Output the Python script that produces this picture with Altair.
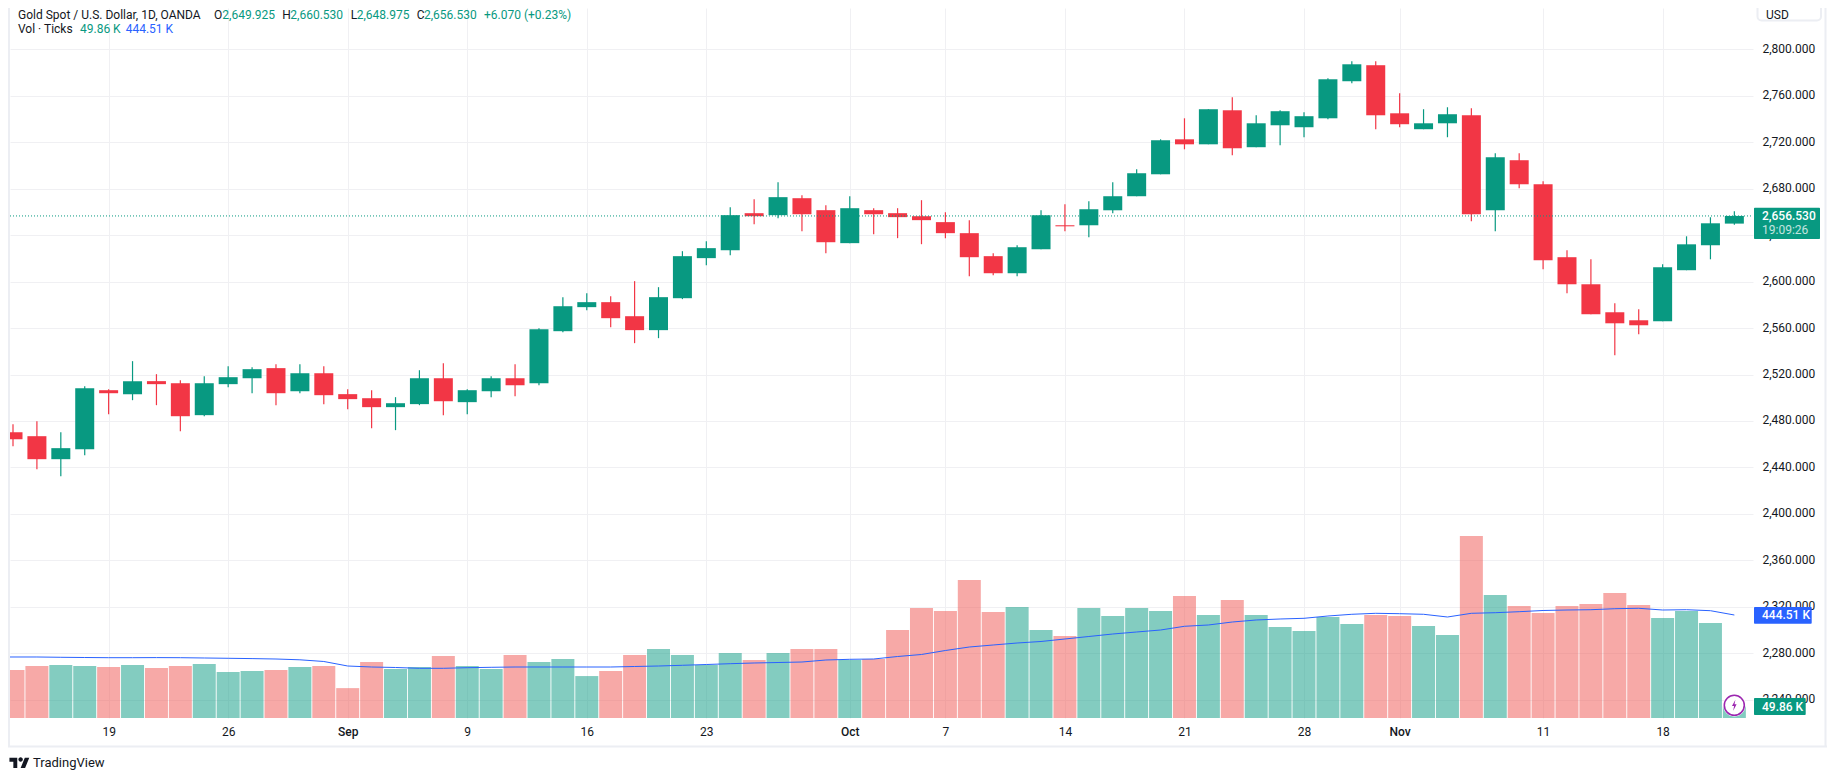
import altair as alt
import pandas as pd

# ---------- data ----------
opens = [2470.4,2466.9,2447.1,2455.7,2506.5,2503.1,2514.3,2512.5,2485.0,2511.7,2516.8,2525.5,2505.6,2521.1,2503.1,2499.6,
         2491.9,2494.5,2516.8,2496.2,2505.6,2516.8,2512.5,2557.3,2578.0,2582.3,2570.2,2558.2,2585.7,2620.2,2627.0,2658.9,
         2657.2,2671.8,2661.5,2633.1,2661.5,2658.9,2656.3,2651.2,2641.7,2621.9,2607.2,2627.8,2648.5,2648.5,2661.4,2673.5,
         2692.4,2722.5,2718.2,2747.5,2715.7,2734.6,2732.9,2740.6,2772.5,2786.3,2744.9,2731.2,2736.3,2743.2,2661.4,2704.5,
         2683.8,2621.0,2597.7,2573.6,2566.7,2565.8,2609.8,2631.3,2649.925]
highs = [2477.2,2479.8,2470.4,2510.0,2507.4,2531.5,2520.3,2515.1,2518.6,2527.2,2526.3,2528.9,2528.9,2527.2,2507.4,2506.5,
         2500.5,2523.7,2529.8,2507.4,2518.6,2528.9,2559.9,2586.6,2590.0,2587.4,2600.4,2595.2,2626.2,2634.8,2664.1,2671.0,
         2685.6,2674.4,2665.8,2673.5,2663.2,2663.2,2670.1,2659.8,2652.9,2624.5,2631.3,2661.4,2666.6,2669.2,2685.5,2696.7,
         2722.5,2740.6,2748.4,2758.7,2743.2,2747.5,2745.8,2775.1,2789.7,2789.7,2762.2,2748.4,2750.1,2749.2,2710.5,2710.5,
         2686.4,2627.0,2619.2,2581.3,2576.2,2614.9,2639.0,2655.4,2660.53]
lows = [2458.3,2438.5,2432.5,2450.5,2485.8,2497.9,2493.6,2471.2,2484.1,2509.1,2503.9,2493.6,2503.9,2494.5,2490.2,2473.8,
        2472.1,2493.6,2485.0,2485.8,2500.5,2501.3,2510.8,2556.4,2575.4,2560.8,2547.0,2551.3,2584.9,2614.1,2622.7,2649.4,
        2654.6,2643.4,2624.5,2633.1,2640.8,2637.4,2632.2,2637.4,2604.7,2605.5,2604.6,2627.8,2643.3,2638.2,2658.8,2673.5,
        2692.4,2713.9,2718.2,2708.8,2715.7,2717.4,2724.3,2739.8,2770.8,2731.2,2732.9,2731.2,2724.3,2651.9,2643.3,2680.4,
        2610.6,2590.0,2571.9,2536.6,2554.7,2565.8,2609.8,2619.2,2648.975]
closes = [2464.3,2447.1,2456.6,2508.2,2503.9,2514.3,2511.7,2484.1,2512.5,2517.7,2524.6,2503.9,2521.1,2502.2,2498.8,2491.9,
          2495.3,2516.8,2497.0,2506.5,2516.8,2510.8,2559.0,2578.8,2582.3,2568.5,2558.2,2586.6,2621.9,2628.8,2657.2,2656.3,
          2672.7,2658.0,2633.9,2663.2,2658.0,2655.5,2652.9,2641.7,2621.0,2607.2,2629.6,2657.1,2647.6,2662.3,2673.5,2693.3,
          2721.7,2718.2,2748.4,2714.8,2736.3,2746.7,2742.4,2774.2,2787.1,2743.2,2735.5,2736.3,2744.1,2658.0,2707.0,2683.8,
          2618.4,2597.7,2571.9,2564.1,2562.4,2612.3,2632.1,2650.2,2656.53]
volumes = [207,224,229,224,220,229,216,224,233,199,203,207,220,224,129,242,211,220,268,224,211,272,242,255,181,203,272,298,
           272,229,281,250,281,298,298,250,255,380,475,462,596,457,479,380,354,475,440,475,462,527,445,509,445,393,375,436,
           406,445,440,397,358,786,531,483,453,483,492,540,488,432,462,410,49.86]
volume_ma = [263.3,263.3,263.3,262.0,261.1,260.3,260.3,260.7,260.3,259.0,257.7,256.4,254.6,251.2,243.9,224.4,220.1,218.0,
             214.5,214.5,217.1,218.8,220.1,220.1,220.1,220.1,220.1,222.3,224.4,227.5,230.9,234.4,237.4,239.5,241.7,250.3,
             253.3,254.6,265.4,274.1,291.3,306.4,315.1,323.7,330.2,341.0,351.8,362.5,371.2,379.8,395.8,401.4,414.3,423.0,
             427.3,430.3,440.2,447.6,451.9,450.2,447.6,435.9,451.9,454.5,458.8,464.0,466.1,467.4,471.7,473.5,466.1,467.4,
             463.1,444.51]
x_tick_bars = [4,9,14,19,24,29,35,39,44,49,54,58,64,69]
x_tick_labels = ["19","26","Sep","9","16","23","Oct","7","14","21","28","Nov","11","18"]
month_bars = [14,35,58]
price_ticks = [2240,2280,2320,2360,2400,2440,2480,2520,2560,2600,2640,2680,2720,2760,2800]
last_price = 2656.53

GREEN, RED, BLUE, INK = "#089981", "#F23645", "#2962FF", "#131722"
VOL_RED = "#EF5350"
GRID = "#f0f0f3"
BORDER = "#eceef3"
FONT = "Roboto"

# ---------- layout ----------
W, H, LEFT, TOP = 1743, 710, 2, 0
OX, OY = 10, 8            # page position of the plot area's corner

df = pd.DataFrame({"i": range(len(opens)), "o": opens, "h": highs, "l": lows, "c": closes, "v": volumes})
ma_df = pd.DataFrame({"i": range(-1, len(volume_ma) - 1), "m": volume_ma})

xs = alt.Scale(domain=[-0.1255, 72.78], nice=False, zero=False, padding=0)
ps = alt.Scale(domain=[2224.27, 2835.56], nice=False, zero=False, padding=0)
vs = alt.Scale(domain=[0, 3064.4], nice=False, zero=False, padding=0)
up = "datum.c >= datum.o"
cond_candle = alt.condition(up, alt.value(GREEN), alt.value(RED))
cond_vol = alt.condition(up, alt.value(GREEN), alt.value(VOL_RED))

label_expr = "[" + ",".join(f"'{t}'" for t in x_tick_labels) + "][indexof(" + str(x_tick_bars) + ",datum.value)]"
month_test = " || ".join(f"datum.value == {b}" for b in month_bars)
x_axis = alt.Axis(values=x_tick_bars, labelExpr=label_expr, title=None, domain=False, ticks=False,
                  grid=True, gridColor=GRID, gridWidth=1, labelFont=FONT, labelFontSize=12, labelColor=INK,
                  labelPadding=8, labelOverlap=False, labelFlush=False,
                  labelFontWeight={"condition": {"test": month_test, "value": 500}, "value": 400})
y_axis = alt.Axis(values=price_ticks, format=",.3f", title=None, orient="right", domain=False, ticks=False,
                  grid=True, gridColor=GRID, gridWidth=1, labelFont=FONT, labelFontSize=12, labelColor=INK,
                  labelPadding=9, labelOverlap=False, labelFlush=False, labelAlign="left", labelOffset=-1,
                  tickCount=len(price_ticks))

base = alt.Chart(df)
vol_bars = base.mark_bar(size=23, opacity=0.5, clip=True).encode(
    x=alt.X("i:Q", scale=xs, axis=x_axis),
    y=alt.Y("v:Q", scale=vs, axis=None),
    color=cond_vol)
vol_ma = alt.Chart(ma_df).mark_line(color=BLUE, strokeWidth=1, clip=True).encode(
    x=alt.X("i:Q", scale=xs, axis=None),
    y=alt.Y("m:Q", scale=vs, axis=None))
wicks = base.mark_rule(strokeWidth=1.2, clip=True).encode(
    x=alt.X("i:Q", scale=xs, axis=None),
    y=alt.Y("h:Q", scale=ps, axis=y_axis),
    y2="l:Q",
    color=cond_candle)
bodies = base.mark_bar(size=19, clip=True).encode(
    x=alt.X("i:Q", scale=xs, axis=None),
    y=alt.Y("o:Q", scale=ps, axis=None),
    y2="c:Q",
    color=cond_candle)
price_line = alt.Chart(pd.DataFrame({"p": [last_price]})).mark_rule(color=GREEN, strokeWidth=1, strokeDash=[1, 2]).encode(
    y=alt.Y("p:Q", scale=ps, axis=None), x=alt.value(0), x2=alt.value(W))


def one():
    return alt.Chart(pd.DataFrame({"a": [0]}))


def text(s, px, py, color=INK, size=12, align="left", weight=400, opacity=1):
    return one().mark_text(text=s, align=align, baseline="middle", font=FONT, fontSize=size, color=color,
                           fontWeight=weight, opacity=opacity).encode(x=alt.value(px - OX), y=alt.value(py - OY))


def box(x0, x1, y0, y1, color, radius=0, stroke=None):
    kw = {"cornerRadius": radius}
    if stroke:
        kw.update(stroke=stroke, strokeWidth=2, fill="#ffffff")
    else:
        kw.update(color=color)
    return one().mark_rect(**kw).encode(x=alt.value(x0 - OX), x2=alt.value(x1 - OX),
                                        y=alt.value(y0 - OY), y2=alt.value(y1 - OY))


def glyph(shape, px, py, size, fill, stroke=None, sw=0):
    kw = {"shape": shape, "size": size, "fill": fill, "filled": True, "opacity": 1}
    if stroke:
        kw.update(stroke=stroke, strokeWidth=sw)
    else:
        kw.update(strokeWidth=0)
    return one().mark_point(**kw).encode(x=alt.value(px - OX), y=alt.value(py - OY))


decor = [
    # frame
    box(8, 10, 8, 747, BORDER),
    box(8, 1827, 745.5, 747.5, BORDER),
    box(1824.5, 1826.5, 8, 747, BORDER),
    # scale button
    box(1757.5, 1821, 4, 20.5, "#ffffff", radius=4, stroke=BORDER),
    text("USD", 1766, 14.5),
    # header rows
    text("Gold Spot / U.S. Dollar, 1D, OANDA", 18, 14.5),
    text("O", 214, 14.5), text("2,649.925", 222.3, 14.5, GREEN),
    text("H", 282.3, 14.5), text("2,660.530", 290.3, 14.5, GREEN),
    text("L", 350.7, 14.5), text("2,648.975", 356.7, 14.5, GREEN),
    text("C", 416.7, 14.5), text("2,656.530", 424, 14.5, GREEN),
    text("+6.070 (+0.23%)", 484, 14.5, GREEN),
    text("Vol · Ticks", 18, 29),
    text("49.86 K", 80, 29, GREEN),
    text("444.51 K", 125.7, 29, BLUE),
    # price tags
    box(1754, 1820, 207.7, 239, GREEN, radius=1),
    text("2,656.530", 1762, 216, "#ffffff", weight=500),
    text("19:09:26", 1762, 230, "#ffffff", opacity=0.75),
    box(1754, 1811.7, 607, 623.7, BLUE, radius=1),
    text("444.51 K", 1762, 615.4, "#ffffff", weight=500),
    box(1754, 1805.7, 698, 715, GREEN, radius=1),
    text("49.86 K", 1762, 706.5, "#ffffff", weight=500),
    # lightning badge
    glyph("circle", 1734.3, 705.3, 500, "#ffffff"),
    glyph("circle", 1734.3, 705.3, 400, "#ffffff", "#9C27B0", 1.6),
    glyph("M0.2 -1 L-0.42 0.15 L-0.04 0.15 L-0.2 1 L0.42 -0.2 L0.04 -0.2 Z", 1734.3, 705.3, 121, "#9C27B0"),
    # brand
    glyph("M-4 9H-11V-2H-18V-9H-4ZM10 9H2L9.5 -9H17.5ZM-2 -6a4 4 0 1 0 8 0a4 4 0 1 0 -8 0Z", 19.5, 762.9, 1.25, INK),
    text("TradingView", 33, 763, size=13),
]

chart = alt.layer(vol_bars, vol_ma, wicks, bodies, price_line, *decor).resolve_scale(y="independent").resolve_axis(x="independent").properties(
    width=W, height=H, padding={"left": LEFT, "top": TOP, "right": 74, "bottom": 52},
    autosize=alt.AutoSizeParams(type="none"), background="#ffffff"
).configure_view(stroke=None)

chart.save("out.html", embed_options={"renderer": "svg", "actions": False})
